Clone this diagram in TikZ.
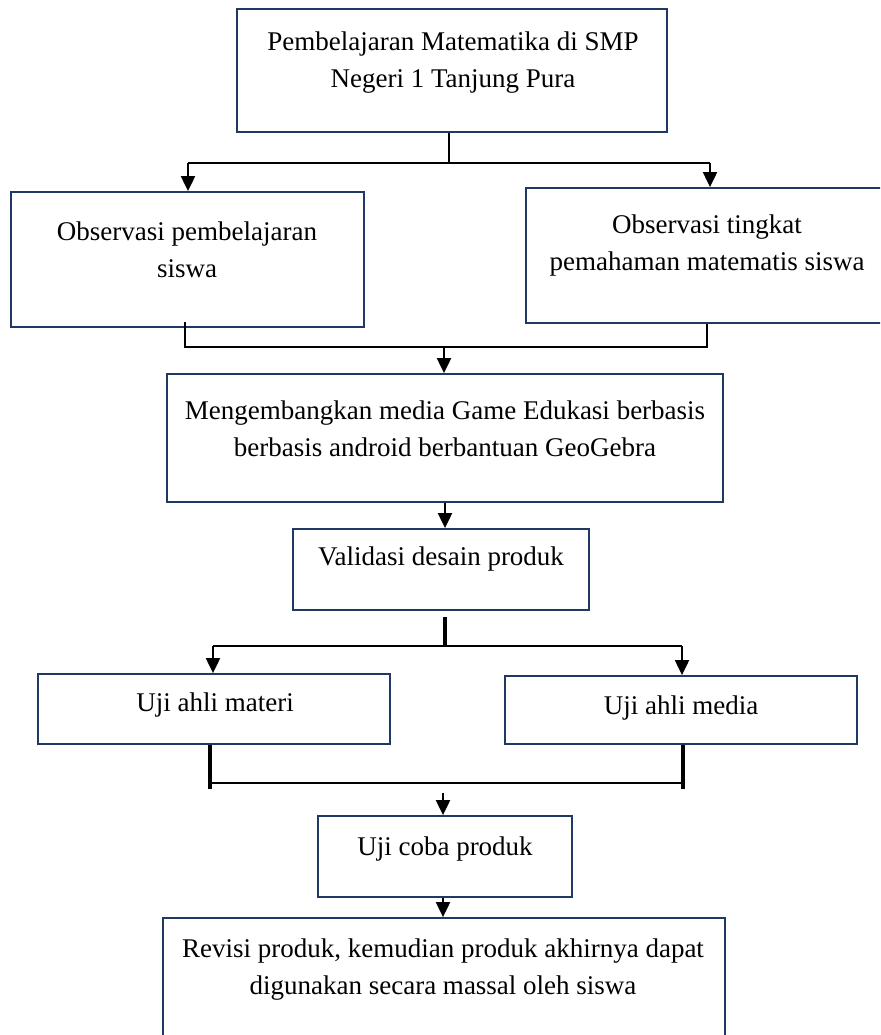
\documentclass[tikz,border=0pt]{standalone}
\usepackage{fontspec}
\setmainfont{Liberation Serif}
\usetikzlibrary{arrows.meta}
\definecolor{navy}{HTML}{1F3864}
\begin{document}
\begin{tikzpicture}[x=1pt,y=-1pt,
  box/.style 2 args={draw=navy, line width=1.8pt, minimum width=#1, minimum height=#2, inner sep=0pt},
  txt/.style={font=\fontsize{27}{37}\selectfont, align=center, inner sep=0pt},
  con/.style={line width=2pt},
  thick con/.style={line width=2.5pt},
  heavy con/.style={line width=4pt},
  arr/.style={line width=2pt, -{Triangle[length=15pt,width=14pt]}}]
\useasboundingbox (0,0) rectangle (880,1035);
\clip (0,0) rectangle (880,1035);

% boxes
\node[box={430pt}{123pt}] (top) at (452,70.5) {};
\node[box={353pt}{135pt}] (left) at (187.5,259.5) {};
\node[box={364pt}{135pt}] (right) at (708,255.5) {};
\node[box={556pt}{128pt}] (mid) at (445,438) {};
\node[box={296pt}{81pt}] (valid) at (441,569.5) {};
\node[box={352pt}{70pt}] (materi) at (214,709) {};
\node[box={352pt}{68pt}] (media) at (681,710) {};
\node[box={254pt}{81pt}] (coba) at (445,856.5) {};
\node[box={562pt}{127pt}] (revisi) at (444,981.5) {};

% texts
\node[txt] (ttop) at (453,62.5) {Pembelajaran Matematika di SMP\\Negeri 1 Tanjung Pura};
\node[txt] (tleft) at (187,250) {Observasi pembelajaran\\siswa};
\node[txt] (tright) at (707,246) {Observasi tingkat\\pemahaman matematis siswa};
\node[txt] (tmid) at (445,429) {Mengembangkan media Game Edukasi berbasis\\berbasis android berbantuan GeoGebra};
\node[txt] (tvalid) at (441,559.5) {Validasi desain produk};
\node[txt] (tmateri) at (215,704.5) {Uji ahli materi};
\node[txt] (tmedia) at (681,707.5) {Uji ahli media};
\node[txt] (tcoba) at (445,848.5) {Uji coba produk};
\node[txt] (trevisi) at (443,970) {Revisi produk, kemudian produk akhirnya dapat\\digunakan secara massal oleh siswa};

% connectors: top -> two observation boxes
\coordinate (j1) at (449,163);
\coordinate (a1) at (188,163);
\coordinate (a2) at (710,163);
\draw[con] (top.south -| j1) -- (j1);
\draw[con] (a1) -- (a2);
\draw[arr] (a1) -- (a1 |- left.north);
\draw[arr] (a2) -- (a2 |- right.north);

% observation boxes -> mid
\coordinate (b0) at (185,322);
\coordinate (b1) at (185,347);
\coordinate (b2) at (707,347);
\coordinate (b3) at (444,347);
\draw[con] (b0) -- (b1) -- (b2) -- (b2 |- right.south);
\draw[arr] (b3) -- (b3 |- mid.north);

% mid -> valid
\draw[arr] (mid.south) -- (mid.south |- valid.north);

% valid -> two tests
\coordinate (s0) at (445,617);
\coordinate (s1) at (445,646);
\coordinate (s2) at (213,646);
\coordinate (s3) at (682,646);
\draw[heavy con] (s0) -- (s1);
\draw[thick con] (s2) -- (s3);
\draw[arr] (s2) -- (s2 |- materi.north);
\draw[arr] (s3) -- (s3 |- media.north);

% tests -> coba
\coordinate (m1) at (210,783);
\coordinate (m2) at (683,783);
\draw[heavy con] (materi.south -| m1) -- ++(0,44);
\draw[heavy con] (media.south -| m2) -- ++(0,44);
\draw[thick con] (m1) -- (m2);
\coordinate (c0) at (443,793);
\draw[arr] (c0) -- (c0 |- coba.north);

% coba -> revisi
\draw[arr] (coba.south -| c0) -- (c0 |- revisi.north);
\end{tikzpicture}
\end{document}
